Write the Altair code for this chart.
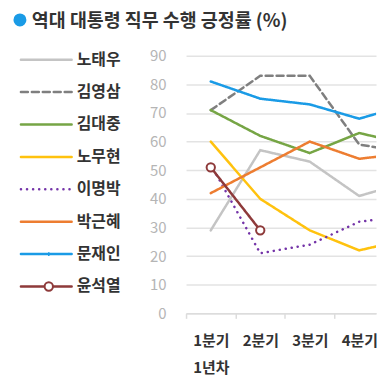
import altair as alt
import pandas as pd

FONT = "Noto Sans CJK KR"

title_text = "역대 대통령 직무 수행 긍정률 (%)"
names = ["노태우", "김영삼", "김대중", "노무현", "이명박", "박근혜", "문재인", "윤석열"]
quarters = [1, 2, 3, 4, 5]
v_rohtw = [29, 57, 53, 41, 46]
v_kimys = [71, 83, 83, 59, 56]
v_kimdj = [71, 62, 56, 63, 59]
v_rohmh = [60, 40, 29, 22, 26]
v_leemb = [52, 21, 24, 32, 34]
v_parkgh = [42, 51, 60, 54, 56]
v_moonji = [81, 75, 73, 68, 73]
v_yoonsy = [51, 29]
colors = ["#c4c4c4", "#7f7f7f", "#76a545", "#ffc20e", "#7434a8", "#ed7d31", "#1a9be6", "#8e3a3a"]
dashes = [[1, 0], [7, 4], [1, 0], [1, 0], [0.1, 6], [1, 0], [1, 0], [1, 0]]
widths = [2.5, 2.5, 2.5, 2.5, 3.5, 2.5, 2.5, 2.5]
x_labels = ["1분기", "2분기", "3분기", "4분기"]
year_label = "1년차"

series = [v_rohtw, v_kimys, v_kimdj, v_rohmh, v_leemb, v_parkgh, v_moonji, v_yoonsy]
rows = []
for n, vals in zip(names, series):
    for q, v in zip(quarters, vals):
        rows.append({"name": n, "q": q, "value": v})
df = pd.DataFrame(rows)
leg = pd.DataFrame({"name": names, "idx": list(range(len(names)))})
head = pd.DataFrame({"t": [title_text]})

color = alt.Color("name:N", scale=alt.Scale(domain=names, range=colors), legend=None)
dash = alt.StrokeDash("name:N", scale=alt.Scale(domain=names, range=dashes), legend=None)
swidth = alt.StrokeWidth("name:N", scale=alt.Scale(domain=names, range=widths), legend=None)
stroke = alt.Stroke("name:N", scale=alt.Scale(domain=names, range=colors), legend=None)

label_expr = ("datum.value == 0.5 ? ['" + x_labels[0] + "', '" + year_label + "'] : "
              "datum.value == 1.5 ? '" + x_labels[1] + "' : "
              "datum.value == 2.5 ? '" + x_labels[2] + "' : "
              "datum.value == 3.5 ? '" + x_labels[3] + "' : ''")

x = alt.X("q:Q", scale=alt.Scale(domain=[0.5, 4.34], nice=False, zero=False),
          axis=alt.Axis(values=[0.5, 1.5, 2.5, 3.5], grid=False, domain=True,
                        domainColor="#dcdcdc", domainWidth=1.5, ticks=True, tickColor="#dcdcdc",
                        tickSize=5, tickWidth=1.5, labelOffset=25, labelExpr=label_expr,
                        labelFont=FONT, labelFontSize=15, labelFontWeight="bold",
                        labelColor="#333333", labelPadding=15, labelLineHeight=27,
                        labelOverlap=False, labelFlush=False, labelBound=False, title=None))
y = alt.Y("value:Q", scale=alt.Scale(domain=[0, 90], nice=False),
          axis=alt.Axis(values=list(range(0, 100, 10)), grid=True, gridColor="#e3e3e3",
                        gridWidth=1.5, domain=False, ticks=False, labelColor="#b5b5b5",
                        labelFont=FONT, labelFontSize=15, labelPadding=20, title=None))

base = alt.Chart(df)
lines = base.mark_line(clip=True, strokeCap="round").encode(
    x=x, y=y, color=color, strokeDash=dash, strokeWidth=swidth, detail="name:N")
pts = base.transform_filter(alt.datum.name == names[-1]).mark_point(
    shape="circle", filled=True, fill="white", size=70, strokeWidth=2, opacity=1).encode(
    x=x, y=y, stroke=stroke)
main = alt.layer(lines, pts).properties(width=191, height=259)

ly = alt.Y("idx:Q", scale=alt.Scale(domain=[0, len(names) - 1], range=[4, 232], nice=False, zero=False), axis=None)
lbase = alt.Chart(leg)
lrule = lbase.mark_rule(strokeCap="round").encode(
    x=alt.value(13), x2=alt.value(64), y=ly, color=color, strokeDash=dash, strokeWidth=swidth)
lpt = lbase.transform_filter(alt.datum.name == names[-1]).mark_point(
    shape="circle", filled=True, fill="white", size=70, strokeWidth=2, opacity=1).encode(
    x=alt.value(41), y=ly, stroke=stroke)
lcross = lbase.transform_filter(alt.datum.name == names[-2]).mark_point(
    shape="cross", filled=True, size=14, opacity=1).encode(
    x=alt.value(41), y=ly, color=color)
ltext = lbase.mark_text(align="left", baseline="middle", font=FONT, fontSize=16,
                        fontWeight="bold", color="#333333").encode(
    x=alt.value(69), y=ly, text="name:N")
legend = alt.layer(lrule, lpt, lcross, ltext).properties(width=179, height=259)

hbase = alt.Chart(head)
hdot = hbase.mark_point(shape="circle", filled=True, size=170, color="#1a9be6", opacity=1).encode(
    x=alt.value(12), y=alt.value(11))
htext = hbase.mark_text(align="left", baseline="middle", font=FONT, fontSize=18.5,
                        fontWeight="bold", color="#333333").encode(
    x=alt.value(24), y=alt.value(12), text="t:N")
header = alt.layer(hdot, htext).properties(width=370, height=47)

chart = alt.vconcat(
    header,
    alt.hconcat(legend, main, spacing=0, bounds="flush"),
    spacing=0, bounds="flush",
).properties(padding=0).configure_view(stroke=None)

chart.save("out.html", embed_options={"renderer": "svg", "actions": False})
